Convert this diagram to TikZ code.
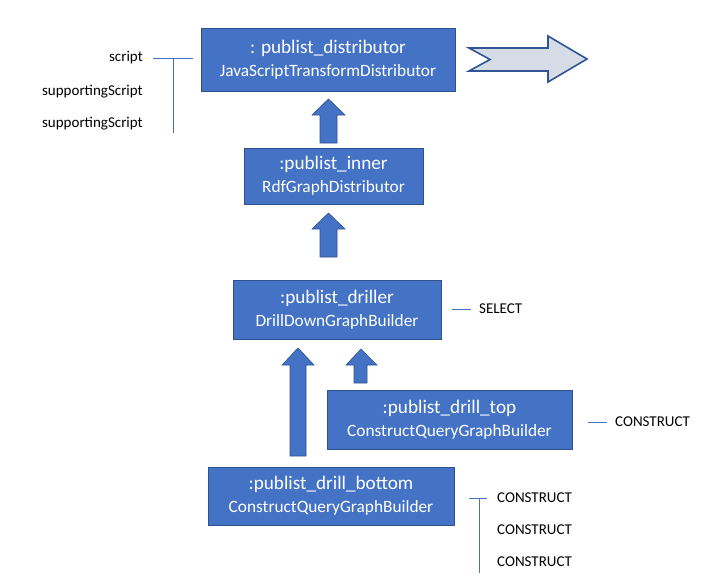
\documentclass[tikz,border=0pt]{standalone}
\usepackage{fontspec}
\setmainfont{Carlito}
\definecolor{boxfill}{HTML}{4472C4}
\definecolor{boxline}{HTML}{2F528F}
\definecolor{arrfill}{HTML}{D6DCE5}
\definecolor{arrline}{HTML}{2F5597}
\begin{document}
\begin{tikzpicture}[x=1pt,y=-1pt,
  cls/.style={draw=boxline,line width=0.8pt,fill=boxfill,text=white,align=center,inner sep=0pt,font=\fontsize{17.3}{23}\selectfont},
  blk/.style={fill=boxfill,draw=boxline,line width=0.6pt},
  lbl/.style={font=\fontsize{15}{17}\selectfont,inner sep=0pt},
  brk/.style={draw=boxfill,line width=0.9pt}]
\useasboundingbox (0,0) rectangle (723,584);
\newcommand{\ttl}[1]{{\fontsize{19.2}{23}\selectfont #1}}
% boxes
\node[cls,minimum width=254,minimum height=63] (dist) at (328,59.5) {\ttl{: publist\_distributor}\\JavaScriptTransformDistributor};
\node[cls,minimum width=179,minimum height=56] (inner) at (333.5,176) {\ttl{:publist\_inner}\\RdfGraphDistributor};
\node[cls,minimum width=208,minimum height=59] (driller) at (337,309.5) {\ttl{:publist\_driller}\\DrillDownGraphBuilder};
\node[cls,minimum width=245,minimum height=59] (top) at (449.5,419.5) {\ttl{:publist\_drill\_top}\\ConstructQueryGraphBuilder};
\node[cls,minimum width=246,minimum height=58] (bottom) at (331,496) {\ttl{:publist\_drill\_bottom}\\ConstructQueryGraphBuilder};
% block up arrows
\draw[blk] (328.5,99) -- (345,115) -- (337,115) -- (337,143) -- (320,143) -- (320,115) -- (312,115) -- cycle;
\draw[blk] (328.5,213) -- (345,229) -- (337,229) -- (337,257) -- (320,257) -- (320,229) -- (312,229) -- cycle;
\draw[blk] (298,348) -- (314,365) -- (306,365) -- (306,456) -- (290,456) -- (290,365) -- (282,365) -- cycle;
\draw[blk] (361,349) -- (377,365) -- (367,365) -- (367,383) -- (354,383) -- (354,365) -- (346,365) -- cycle;
% big right arrow
\draw[fill=arrfill,draw=arrline,line width=1.6pt,line join=miter] (469,48) -- (548,48) -- (548,36) -- (587,59) -- (548,82) -- (548,71) -- (469,71) -- (490,59.5) -- cycle;
% left labels
\node[lbl,anchor=east] (s1) at (143,58) {script};
\node[lbl,anchor=east] (s2) at (143,92) {supportingScript};
\node[lbl,anchor=east] (s3) at (143,124) {supportingScript};
\coordinate (b1a) at (153,58);
\coordinate (b1b) at (193,58);
\coordinate (b1c) at (173,58);
\coordinate (b1d) at (173,133);
\draw[brk] (b1a) -- (b1b);
\draw[brk] (b1c) -- (b1d);
% SELECT
\node[lbl,anchor=west] (sel) at (479,309) {SELECT};
\coordinate (sa) at (452,309);
\coordinate (sb) at (471,309);
\draw[brk] (sa) -- (sb);
% CONSTRUCT top
\node[lbl,anchor=west] (c0) at (615,422) {CONSTRUCT};
\coordinate (ca) at (588,422);
\coordinate (cb) at (607,422);
\draw[brk] (ca) -- (cb);
% CONSTRUCT bottom
\node[lbl,anchor=west] (c1) at (497,498) {CONSTRUCT};
\node[lbl,anchor=west] (c2) at (497,530) {CONSTRUCT};
\node[lbl,anchor=west] (c3) at (497,562) {CONSTRUCT};
\coordinate (da) at (469,498);
\coordinate (db) at (487,498);
\coordinate (dc) at (479,498);
\coordinate (dd) at (479,573);
\draw[brk] (da) -- (db);
\draw[brk] (dc) -- (dd);
\end{tikzpicture}
\end{document}
